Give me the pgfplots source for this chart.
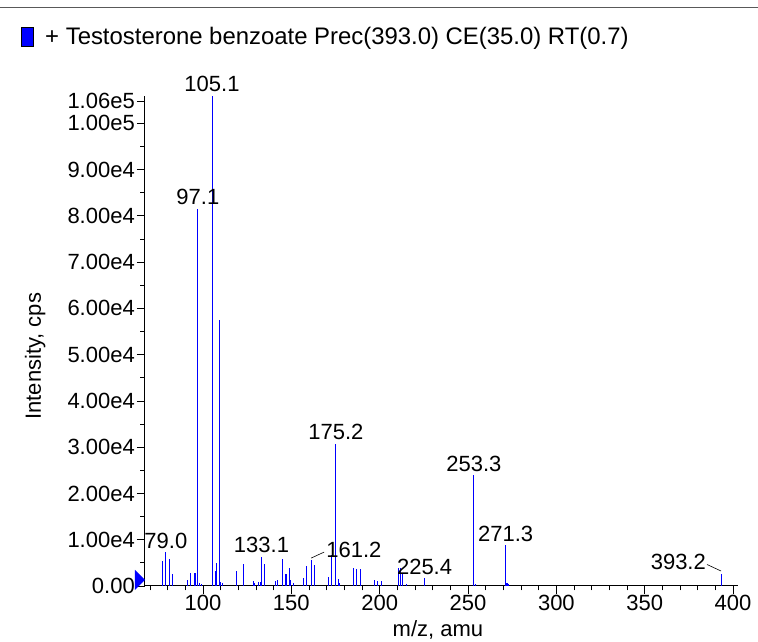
\documentclass[border=0pt]{standalone}
\usepackage{fontspec}
\setmainfont{Liberation Sans}
\usepackage{pgfplots}
\pgfplotsset{compat=1.18}
\definecolor{peak}{RGB}{0,0,255}
\pgfplotstableread{
x y
77.0 5400
79.0 7300
81.0 5800
83.0 2700
91.0 1400
93.1 2800
95.1 2800
95.6 2800
97.1 81500
98.0 600
99.0 500
105.1 105900
106.9 3200
107.6 4900
109.1 57400
110.0 900
111.0 700
119.1 3200
122.9 4700
128.5 1100
129.0 600
131.4 800
132.3 800
133.1 6300
135.0 4700
140.8 1000
142.1 1400
145.0 5800
146.5 2700
147.2 2700
148.8 3900
149.7 1200
151.5 600
156.7 1700
158.6 4300
161.2 5600
162.9 4600
171.0 1850
172.9 6700
175.2 30700
176.7 1500
177.5 600
185.2 3800
186.9 3600
189.2 3600
197.1 1300
199.0 1100
201.0 1100
210.7 3800
211.5 3800
212.9 2700
214.9 400
225.4 1700
253.3 23900
254.0 400
271.3 8800
272.0 600
272.6 700
273.0 500
393.2 2700
}\peaks
\begin{document}
\fontsize{22}{26}\selectfont
\begin{tikzpicture}[font=\fontsize{22}{26}\selectfont]
\useasboundingbox (0,0) rectangle (758pt,642pt);
\draw[line width=1pt, black!65] (0,634pt) -- (758pt,634pt);
\filldraw[fill=peak, draw=black, line width=0.5pt] (21pt,596pt) rectangle (33pt,615pt);
\node[anchor=base west, inner sep=0pt, font=\fontsize{23.9}{28}\selectfont] at (45pt,597pt) {+ Testosterone benzoate Prec(393.0) CE(35.0) RT(0.7)};
\begin{axis}[
  at={(145pt,56pt)}, anchor=south west,
  scale only axis, width=593pt, height=490pt,
  xmin=67.17, xmax=402.8, ymin=0, ymax=105900,
  axis x line*=bottom, axis y line*=left,
  axis line style={black, line width=1pt},
  tick align=outside,
  major tick length=8pt, minor tick length=4.5pt,
  every tick/.style={black, line width=0.8pt},
  xtick={100,150,200,250,300,350,400},
  xticklabels={100,150,200,250,300,350,400},
  minor xtick={70,80,...,400},
  ytick={0,10000,20000,30000,40000,50000,60000,70000,80000,90000,100000,104800},
  yticklabels={0.00,1.00e4,2.00e4,3.00e4,4.00e4,5.00e4,6.00e4,7.00e4,8.00e4,9.00e4,1.00e5,1.06e5},
  minor ytick={5000,15000,...,95000},
  scaled x ticks=false, scaled y ticks=false,
  xticklabel style={inner sep=1pt, font=\fontsize{22}{26}\selectfont},
  yticklabel style={inner sep=2pt, font=\fontsize{22}{26}\selectfont},
  xlabel={m/z, amu},
  xlabel style={at={(rel axis cs:0.494,0)}, anchor=base, yshift=-51pt, font=\fontsize{22}{26}\selectfont},
  ylabel={Intensity, cps},
  ylabel style={at={(rel axis cs:0,0.469)}, anchor=base, yshift=104pt, font=\fontsize{22}{26}\selectfont},
  clip=false,
]
\addplot[ycomb, peak, line width=1pt, mark=none] table[x=x, y=y] {\peaks};
\fill[peak] (rel axis cs:0,0) ++(-10pt,-4pt) -- ++(0pt,20pt) -- ++(10pt,-10pt) -- cycle;
\node[anchor=base, inner sep=0pt, yshift=4pt] at (axis cs:79.0,7300) {79.0};
\node[anchor=base, inner sep=0pt, yshift=4pt] at (axis cs:97.1,81500) {97.1};
\node[anchor=base, inner sep=0pt, yshift=4pt] at (axis cs:105.1,105900) {105.1};
\node[anchor=base, inner sep=0pt, yshift=4pt] at (axis cs:133.1,6300) {133.1};
\node[anchor=base, inner sep=0pt, yshift=4pt] at (axis cs:175.2,30700) {175.2};
\node[anchor=base, inner sep=0pt, yshift=4pt] at (axis cs:225.4,1700) {225.4};
\node[anchor=base, inner sep=0pt, yshift=4pt] at (axis cs:253.3,23900) {253.3};
\node[anchor=base, inner sep=0pt, yshift=4pt] at (axis cs:271.3,8800) {271.3};
\node[anchor=base west, inner sep=0pt, xshift=15pt, yshift=3pt] at (axis cs:161.2,5600) {161.2};
\draw[black, line width=0.6pt] (axis cs:161.2,5600) ++(0pt,2pt) -- ++(13pt,6pt);
\node[anchor=base east, inner sep=0pt, xshift=-15pt, yshift=4pt] at (axis cs:393.2,2700) {393.2};
\draw[black, line width=0.6pt] (axis cs:393.2,2700) ++(0pt,2.5pt) -- ++(-14pt,6.5pt);
\end{axis}
\end{tikzpicture}
\end{document}
